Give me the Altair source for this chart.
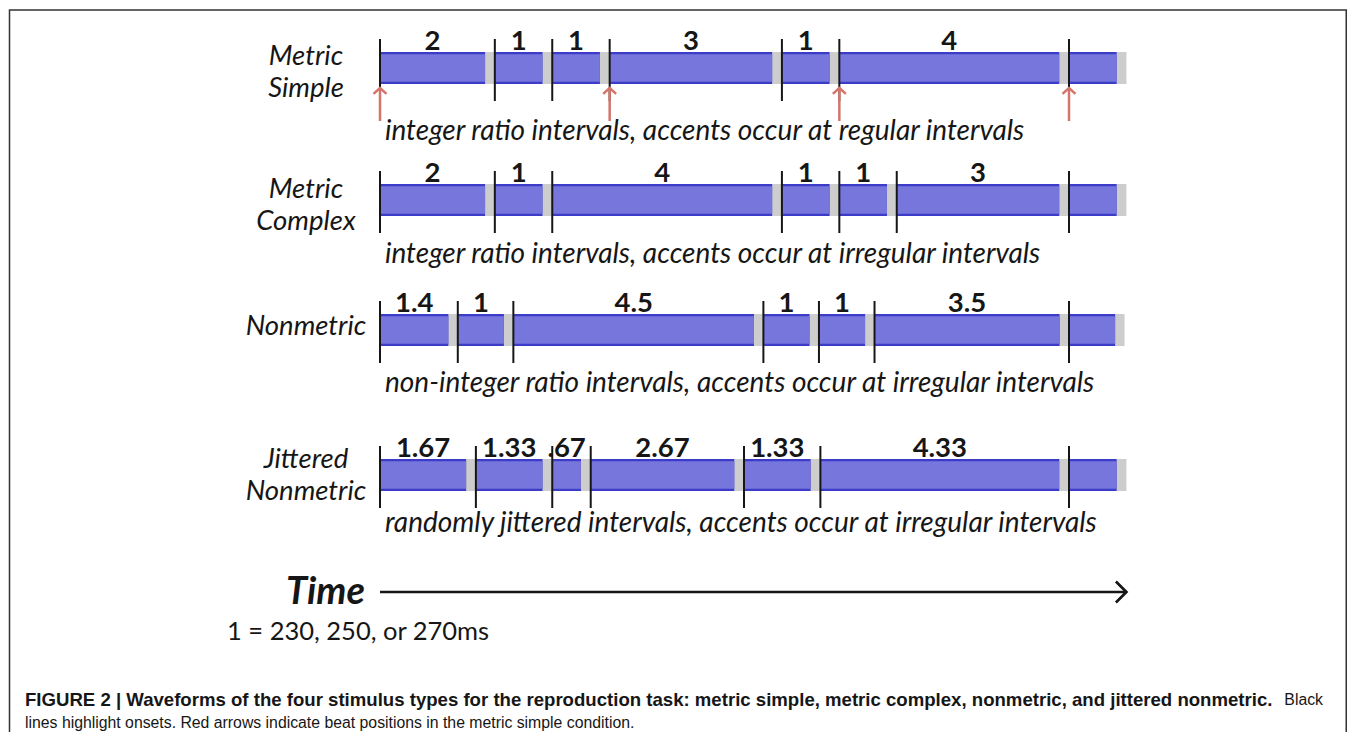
import altair as alt
import pandas as pd

# ---------------- data ----------------
ROWS = ["Metric Simple", "Metric Complex", "Nonmetric", "Jittered Nonmetric"]
ROW_LABEL_LINES = [["Metric", "Simple"], ["Metric", "Complex"], ["Nonmetric"], ["Jittered", "Nonmetric"]]
INTERVALS = [
    [2, 1, 1, 3, 1, 4],
    [2, 1, 4, 1, 1, 3],
    [1.4, 1, 4.5, 1, 1, 3.5],
    [1.67, 1.33, 0.67, 2.67, 1.33, 4.33],
]
INTERVAL_LABELS = [
    ["2", "1", "1", "3", "1", "4"],
    ["2", "1", "4", "1", "1", "3"],
    ["1.4", "1", "4.5", "1", "1", "3.5"],
    ["1.67", "1.33", ".67", "2.67", "1.33", "4.33"],
]
DESCRIPTIONS = [
    "integer ratio intervals, accents occur at regular intervals",
    "integer ratio intervals, accents occur at irregular intervals",
    "non-integer ratio intervals, accents occur at irregular intervals",
    "randomly jittered intervals, accents occur at irregular intervals",
]
BEAT_ONSETS = [0, 4, 8, 12]   # beats of the metric simple pattern (units)
TAIL = 1                       # first sound of the repeated pattern
TIME_LABEL = "Time"
UNIT_NOTE = "1 = 230, 250, or 270ms"
CAPTION_BOLD = ("FIGURE 2 | Waveforms of the four stimulus types for the reproduction task: "
                "metric simple, metric complex, nonmetric, and jittered nonmetric.")
CAPTION_TAIL = "Black"
CAPTION_LINE2 = "lines highlight onsets. Red arrows indicate beat positions in the metric simple condition."

# ---------------- layout (reference pixels) ----------------
W, H = 1339, 724
ROW_Y = [68, 200, 330, 475]
LABEL_Y = [57, 190, 327, 460]     # first line of each row label
DESC_Y = [132, 255, 384, 524]
TIME_Y = 592
BAR_HALF = 16
EDGE = 2.2
LINE_UP, LINE_DOWN = 29, 33
SOUND_GAP = 0.17
ARROW_TIP, ARROW_BASE = 88, 121

def px(v):
    return v - 8

BLUE = "#7676dc"
BLUE_EDGE = "#3c3cc8"
GRAY = "#cdcdcd"
RED = "#d4746b"
INK = "#161616"
CAL = "Lato"

xs = alt.Scale(domain=[0, 1], range=[px(380), px(1069)], nice=False, zero=False)
ys = alt.Scale(domain=[8, 8 + H], range=[0, H], nice=False, zero=False)

sounds, strips, onsets, labels = [], [], [], []
for r, (ivs, labs) in enumerate(zip(INTERVALS, INTERVAL_LABELS)):
    total = sum(ivs)
    cum = [0.0]
    for v in ivs:
        cum.append(cum[-1] + v)
    ends = cum[1:] + [total + TAIL]
    c = ROW_Y[r]
    strips.append(dict(x=0, x2=(total + TAIL) / total, y1=c - BAR_HALF, y2=c + BAR_HALF))
    for i, start in enumerate(cum):
        end = ends[i] - SOUND_GAP
        sounds.append(dict(row=ROWS[r], x=start / total, x2=end / total,
                           yo1=c - BAR_HALF, yo2=c + BAR_HALF,
                           yi1=c - BAR_HALF + EDGE, yi2=c + BAR_HALF - EDGE))
        onsets.append(dict(x=start / total, y1=c - LINE_UP, y2=c + LINE_DOWN))
        if i < len(labs):
            labels.append(dict(x=(start + end) / 2 / total, y=c - 18, text=labs[i]))

sounds = pd.DataFrame(sounds)
strips = pd.DataFrame(strips)
onsets = pd.DataFrame(onsets)
labels = pd.DataFrame(labels)
rowtext = pd.DataFrame(dict(lines=ROW_LABEL_LINES, y=LABEL_Y))
desc = pd.DataFrame(dict(text=DESCRIPTIONS, y=DESC_Y))
beats = pd.DataFrame(dict(x=[b / sum(INTERVALS[0]) for b in BEAT_ONSETS],
                          y1=[ARROW_TIP] * len(BEAT_ONSETS), y2=[ARROW_BASE] * len(BEAT_ONSETS)))
tend = (sum(INTERVALS[0]) + TAIL) / sum(INTERVALS[0])
timeline = pd.DataFrame(dict(x=[0], x2=[tend], y=[TIME_Y]))
one = pd.DataFrame(dict(a=[0]))

X = lambda f: alt.X(f, scale=xs, axis=None)
Y = lambda f: alt.Y(f, scale=ys, axis=None)

border = alt.Chart(one).mark_rect(fillOpacity=0, stroke="#333333", strokeWidth=1.5).encode(
    x=alt.value(1.5), x2=alt.value(W - 0.75), y=alt.value(2), y2=alt.value(H + 20))

strip = alt.Chart(strips).mark_rect(color=GRAY).encode(x=X("x:Q"), x2="x2:Q", y=Y("y1:Q"), y2="y2:Q")
outer = alt.Chart(sounds).mark_rect(color=BLUE_EDGE).encode(x=X("x:Q"), x2="x2:Q", y=Y("yo1:Q"), y2="yo2:Q")
inner = alt.Chart(sounds).mark_rect(color=BLUE).encode(x=X("x:Q"), x2="x2:Q", y=Y("yi1:Q"), y2="yi2:Q")
lines = alt.Chart(onsets).mark_rule(color=INK, strokeWidth=2).encode(x=X("x:Q"), y=Y("y1:Q"), y2="y2:Q")
nums = alt.Chart(labels).mark_text(font=CAL, fontSize=27.5, fontWeight="bold", color=INK,
                                   baseline="alphabetic", align="center").encode(
    x=X("x:Q"), y=Y("y:Q"), text="text:N")
shafts = alt.Chart(beats).mark_rule(color=RED, strokeWidth=2.5).encode(x=X("x:Q"), y=Y("y1:Q"), y2="y2:Q")
heads = alt.Chart(beats).mark_point(shape="M-1,0.9L0,0L1,0.9", size=169, filled=False,
                                    stroke=RED, strokeWidth=2.5, opacity=1).encode(x=X("x:Q"), y=Y("y1:Q"))
rlabels = alt.Chart(rowtext).mark_text(font=CAL, fontSize=27.5, fontStyle="italic", color=INK,
                                       align="center", baseline="middle", lineHeight=32).encode(
    x=alt.value(px(306)), y=Y("y:Q"), text="lines")
descs = alt.Chart(desc).mark_text(font=CAL, fontSize=28, fontStyle="italic", color=INK,
                                  align="left", baseline="middle").encode(
    x=alt.value(px(385)), y=Y("y:Q"), text="text:N")
tline = alt.Chart(timeline).mark_rule(color=INK, strokeWidth=2.7).encode(x=X("x:Q"), x2="x2:Q", y=Y("y:Q"))
thead = alt.Chart(timeline).mark_point(shape="M-1,-1L0,0L-1,1", size=441, filled=False,
                                       stroke=INK, strokeWidth=2.7, opacity=1).encode(x=X("x2:Q"), y=Y("y:Q"))
ttext = alt.Chart(one).mark_text(text=TIME_LABEL, font=CAL, fontSize=38, fontWeight="bold",
                                 fontStyle="italic", color=INK, align="right", baseline="middle").encode(
    x=alt.value(px(365)), y=alt.value(px(593)))
unit = alt.Chart(one).mark_text(text=UNIT_NOTE, font=CAL, fontSize=25.5, color=INK,
                                align="left", baseline="middle").encode(
    x=alt.value(px(227)), y=alt.value(px(632)))
cap1 = alt.Chart(one).mark_text(text=CAPTION_BOLD, font="Liberation Sans", fontSize=18.6, fontWeight="bold",
                                color=INK, align="left", baseline="middle").encode(
    x=alt.value(px(25)), y=alt.value(px(700)))
cap1b = alt.Chart(one).mark_text(text=CAPTION_TAIL, font="Liberation Sans", fontSize=15.8,
                                 color=INK, align="right", baseline="middle").encode(
    x=alt.value(px(1323)), y=alt.value(px(700)))
cap2 = alt.Chart(one).mark_text(text=CAPTION_LINE2, font="Liberation Sans", fontSize=15.8,
                                color=INK, align="left", baseline="middle").encode(
    x=alt.value(px(25)), y=alt.value(px(723)))

chart = alt.layer(border, strip, outer, inner, lines, nums, shafts, heads, rlabels, descs,
                  tline, thead, ttext, unit, cap1, cap1b, cap2).properties(
    width=W, height=H, autosize=alt.AutoSizeParams(type="none"), padding=0
).configure_view(stroke=None)

chart.save("out.html", embed_options={"renderer": "svg", "actions": False})
